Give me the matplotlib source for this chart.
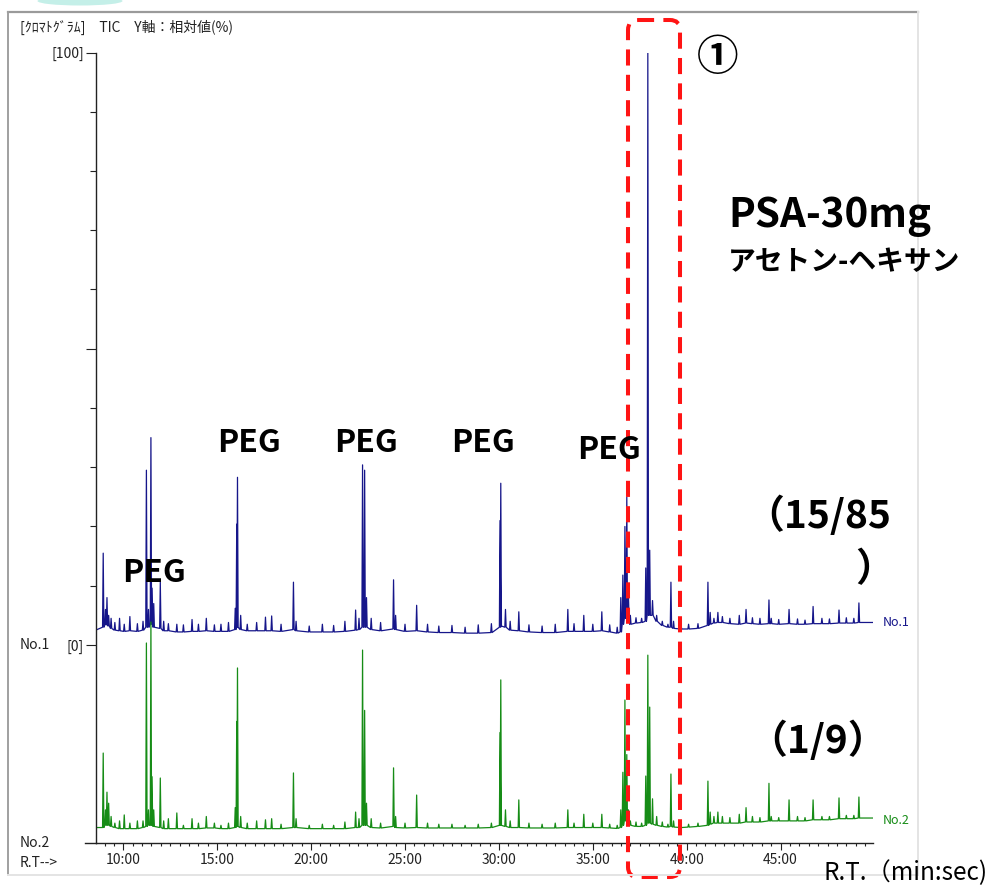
import numpy as np
import matplotlib
matplotlib.use("Agg")
import matplotlib.pyplot as plt
from matplotlib.patches import FancyBboxPatch, Ellipse

plt.rcParams['font.family'] = ['Noto Sans CJK JP', 'DejaVu Sans']

# retention times (min) of the peaks seen in both runs
rt = [8.93, 9.05, 9.13, 9.22, 9.35, 9.55, 9.80, 10.05, 10.35, 10.75,
      11.05, 11.23, 11.34, 11.47, 11.53, 11.62, 11.97, 12.15, 12.40, 12.85,
      13.20, 13.66, 14.00, 14.42, 14.85, 15.20, 15.60, 15.96, 16.04, 16.08,
      16.25, 16.60, 17.10, 17.57, 17.90, 18.40, 19.06, 19.20, 19.90, 20.60,
      21.20, 21.80, 22.37, 22.55, 22.74, 22.85, 22.95, 23.20, 23.70, 24.39,
      24.50, 25.00, 25.62, 26.20, 26.80, 27.50, 28.20, 28.90, 29.60, 30.06,
      30.10, 30.35, 30.60, 31.06, 31.60, 32.30, 33.00, 33.67, 34.00, 34.52,
      35.00, 35.48, 35.90, 36.30, 36.49, 36.60, 36.71, 36.81, 36.90, 37.00,
      37.30, 37.60, 37.82, 37.93, 38.03, 38.18, 38.40, 38.70, 39.00, 39.16,
      39.30, 39.70, 40.10, 40.60, 41.13, 41.25, 41.45, 41.66, 41.90, 42.30,
      42.80, 43.16, 43.50, 43.90, 44.38, 44.50, 44.90, 45.45, 45.90, 46.30,
      46.73, 47.20, 47.60, 48.11, 48.50, 48.90, 49.17]

# No.1 (15/85): peak tops and the baseline under each peak, relative %
no1_top = [15.5, 6.0, 8.0, 5.0, 4.5, 3.8, 4.5, 3.5, 4.8, 3.6,
           4.0, 29.5, 6.0, 35.0, 9.6, 7.0, 10.6, 4.0, 3.6, 3.5,
           3.4, 4.3, 3.5, 4.5, 3.4, 3.5, 3.8, 6.2, 20.4, 28.3,
           5.0, 3.5, 3.8, 4.7, 4.9, 3.5, 10.6, 4.0, 3.2, 3.5,
           3.3, 4.0, 5.9, 4.5, 30.4, 29.5, 8.0, 4.5, 3.8, 11.0,
           5.0, 3.5, 6.7, 3.5, 3.2, 3.3, 3.0, 3.4, 3.6, 21.0,
           27.3, 6.0, 4.0, 5.6, 3.4, 3.2, 3.5, 6.0, 3.6, 5.0,
           3.5, 5.6, 3.4, 3.0, 8.0, 11.8, 20.0, 25.0, 8.0, 5.0,
           4.6, 4.5, 13.0, 100.0, 16.0, 7.5, 5.0, 4.0, 3.5, 10.6,
           4.0, 3.2, 3.5, 3.6, 10.6, 5.5, 4.5, 5.5, 4.8, 4.5,
           5.0, 6.0, 4.6, 4.5, 7.6, 4.5, 4.3, 6.0, 4.4, 4.2,
           6.5, 4.5, 4.4, 5.9, 4.6, 4.5, 7.1]
no1_foot = [3.0, 3.4, 3.4, 3.2, 2.8, 2.5, 2.4, 2.3, 2.4, 2.3,
            2.5, 3.0, 3.0, 3.5, 3.5, 3.0, 2.8, 2.4, 2.4, 2.2,
            2.2, 2.3, 2.3, 2.4, 2.3, 2.3, 2.3, 2.6, 3.0, 3.0,
            2.6, 2.4, 2.4, 2.4, 2.4, 2.3, 2.6, 2.4, 2.2, 2.2,
            2.2, 2.3, 2.5, 2.6, 3.0, 3.0, 3.0, 2.6, 2.4, 2.7,
            2.6, 2.3, 2.4, 2.2, 2.1, 2.1, 2.0, 2.0, 2.1, 3.0,
            3.2, 3.0, 2.5, 2.4, 2.2, 2.1, 2.1, 2.3, 2.3, 2.3,
            2.3, 2.4, 2.2, 2.0, 2.2, 3.5, 4.5, 5.0, 4.5, 3.5,
            3.7, 3.8, 4.0, 5.0, 5.0, 5.0, 4.0, 3.3, 3.0, 3.0,
            2.8, 2.7, 2.7, 2.8, 3.3, 3.5, 3.7, 3.8, 3.8, 3.6,
            3.5, 3.7, 3.6, 3.5, 3.6, 3.6, 3.5, 3.6, 3.5, 3.5,
            3.6, 3.6, 3.6, 3.7, 3.7, 3.7, 3.8]
no1_ends = [(8.60, 2.6), (49.90, 3.8)]

# No.2 (1/9): same peaks, % of its own largest peak
no2_top = [40.7, 15, 23, 18, 12, 9, 10, 12.7, 9, 10,
           10, 90.5, 15, 100, 30, 15, 29.4, 10, 11, 13.6,
           8, 11, 9, 12, 9, 8, 9, 16, 55, 79.2,
           12, 9, 10, 10.5, 11, 8.5, 31.7, 11, 8, 8.5,
           8, 9.5, 14, 11, 87.3, 60, 18, 11, 9, 34,
           12, 9, 21.7, 9, 8.5, 8.5, 8, 8.5, 9, 50,
           73.8, 15, 10, 19.5, 9, 8.5, 9, 15, 9, 13,
           9, 13, 8.5, 8, 15, 32, 64.7, 40, 15, 10,
           9.5, 9, 30.3, 85, 61.5, 20, 12, 9.5, 8.5, 31.2,
           10, 7.5, 8.5, 9, 28, 14, 12, 14, 12, 11.5,
           13, 16, 12, 11.5, 27, 12, 11.5, 19.5, 12, 11.5,
           19.5, 12, 12, 20.4, 12.5, 12.5, 20.8]
no2_foot = [7.0, 8, 8, 8, 7.5, 7, 6.5, 6.5, 6.5, 6.5,
            7, 7.5, 8, 8, 8, 7.5, 7, 6.5, 6.5, 6.5,
            6.5, 6.5, 6.5, 6.8, 6.8, 6.5, 6.5, 7, 7.5, 7.5,
            7, 6.5, 6.5, 6.5, 6.5, 6.5, 7, 7, 6.5, 6.5,
            6.5, 6.5, 7, 7, 8, 8, 8, 7, 6.8, 7.5,
            7, 6.8, 7, 6.8, 6.8, 6.8, 6.8, 6.8, 7, 8,
            8, 7.5, 7, 7, 6.8, 6.8, 6.8, 7, 7, 7,
            7, 7, 6.8, 6.6, 7, 8, 10, 10, 9, 8,
            7.5, 7.5, 8, 9, 9, 8.5, 8, 7.5, 7.2, 7.5,
            7.2, 7.0, 7.2, 7.5, 8, 8.5, 9, 9, 9, 9,
            9, 9.5, 9.5, 9.5, 10, 10, 10, 10, 10, 10,
            10.5, 10.5, 10.5, 11, 11, 11, 11.3]
no2_ends = [(8.60, 7.0), (49.90, 11.3)]

major_min = [10, 15, 20, 25, 30, 35, 40, 45]
major_lab = ["10:00", "15:00", "20:00", "25:00", "30:00", "35:00", "40:00", "45:00"]

BLUE = "#16168a"
GREEN = "#168c16"
AXC = "#222222"

# lower run is drawn under the upper one, squeezed into the space below [0]
LOW_ZERO = -33.42
LOW_SCALE = 0.373


def trace(rt, top, foot, ends, w=0.035):
    xs, ys = [ends[0][0]], [ends[0][1]]
    for t, h, f in zip(rt, top, foot):
        xs += [t - w, t, t + w]
        ys += [f, h, f]
    xs.append(ends[1][0])
    ys.append(ends[1][1])
    return np.array(xs), np.array(ys)


W, H = 991, 885
fig = plt.figure(figsize=(W / 100, H / 100), dpi=100)
fig.patch.set_facecolor("white")
ax = fig.add_axes([96 / W, (H - 843) / H, (873 - 96) / W, (843 - 52.5) / H])

x1, y1 = trace(rt, no1_top, no1_foot, no1_ends)
ax.plot(x1, y1, color=BLUE, lw=0.9)
x2, y2 = trace(rt, no2_top, no2_foot, no2_ends)
ax.plot(x2, LOW_ZERO + y2 * LOW_SCALE, color=GREEN, lw=0.9)

ax.set_xlim(8.546, 49.92)
ax.set_ylim(LOW_ZERO, 100)
ax.set_xticks(major_min, labels=major_lab)
ax.set_xticks(np.arange(9, 50, 0.5), minor=True)
ax.set_yticks([0, 50, 100], labels=["[0]", "", "[100]"])
ax.set_yticks([10, 20, 30, 40, 60, 70, 80, 90], minor=True)
ax.tick_params(axis="x", which="major", length=5, width=0.8, pad=2,
               labelsize=10, color=AXC, labelcolor=AXC)
ax.tick_params(axis="x", which="minor", length=2.2, width=0.8, color=AXC)
ax.tick_params(axis="y", which="major", length=7.5, width=0.8, pad=1,
               labelsize=10, color=AXC, labelcolor=AXC)
ax.tick_params(axis="y", which="minor", length=4.3, width=0.8, color=AXC)
for s in ["top", "right"]:
    ax.spines[s].set_visible(False)
for s in ["left", "bottom"]:
    ax.spines[s].set_color(AXC)
    ax.spines[s].set_linewidth(1.0)
ax.patch.set_visible(False)

# overlay in image pixels (y down) for the window frame and annotations
ov = fig.add_axes([0, 0, 1, 1])
ov.set_xlim(0, W)
ov.set_ylim(H, 0)
ov.axis("off")

ov.add_patch(Ellipse((80, 1), 85, 9, color="#c4efe8", lw=0))
ov.plot([8, 918], [12, 12], color="#9a9a9a", lw=1.6)
ov.plot([8, 8], [12, 875], color="#a0a0a0", lw=1.4)
ov.plot([918, 918], [12, 875], color="#e4e4e4", lw=1.4)
ov.plot([8, 918], [875, 875], color="#e4e4e4", lw=1.4)
ov.plot([85, 96], [843.3, 843.3], color=AXC, lw=1.0)

ov.text(20, 27, "[ｸﾛﾏﾄｸﾞﾗﾑ]　TIC　Y軸：相対値(%)", fontsize=10,
        color=AXC, va="center", ha="left")
ov.text(20, 645, "No.1", fontsize=10, color=AXC, va="center")
ov.text(20, 843, "No.2", fontsize=10, color=AXC, va="center")
ov.text(20, 863, "R.T-->", fontsize=10, color=AXC, va="center")
ov.text(883, 623, "No.1", fontsize=9, color=BLUE, va="center")
ov.text(883, 820, "No.2", fontsize=9, color=GREEN, va="center")

for (px, py) in [(154, 582), (249, 452), (366, 452), (483, 452), (609, 459)]:
    ov.text(px, py, "PEG", fontsize=23, weight="bold", ha="center",
            va="baseline", color="black")

ov.text(718, 58, "①", fontsize=30, weight="bold", ha="center",
        va="center", color="black")
ov.text(728, 227, "PSA-30mg", fontsize=29, weight="bold", ha="left",
        va="baseline", color="black")
ov.text(728, 262, "アセトン-ヘキサン", fontsize=20, weight="bold",
        ha="left", va="center", color="black")
ov.text(745, 528, "（15/85", fontsize=28, weight="bold", ha="left",
        va="baseline", color="black")
ov.text(855, 570, "）", fontsize=28, weight="bold", ha="left",
        va="center", color="black")
ov.text(748, 753, "（1/9）", fontsize=28, weight="bold", ha="left",
        va="baseline", color="black")
ov.text(824, 880, "R.T.（min:sec)", fontsize=17.5, ha="left",
        va="baseline", color="black")

box = FancyBboxPatch((628, 20), 52, 857,
                     boxstyle="round,pad=0,rounding_size=10",
                     fill=False, edgecolor="#ff1414", lw=2.9,
                     linestyle=(0, (4, 2.3)))
ov.add_patch(box)

fig.savefig("out.png", dpi=100)
